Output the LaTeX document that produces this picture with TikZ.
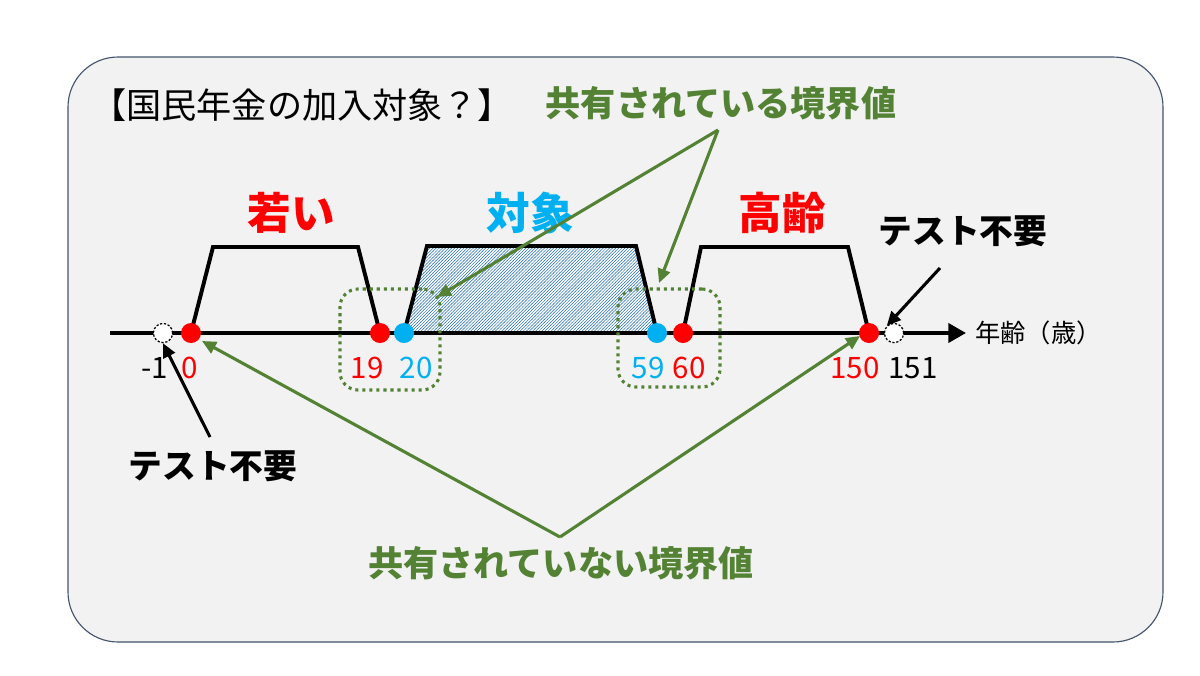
\documentclass[tikz,border=0pt]{standalone}
\usepackage{fontspec}
\setmainfont{Noto Sans CJK JP}
\usetikzlibrary{arrows.meta,patterns}
\definecolor{bgc}{HTML}{F2F2F2}
\definecolor{framec}{HTML}{44546A}
\definecolor{gr}{HTML}{548235}
\definecolor{bl}{HTML}{00B0F0}
\definecolor{hatchc}{HTML}{2E75B6}
\pgfdeclarepatternformonly{denseNE}{\pgfqpoint{-0.5pt}{-0.5pt}}{\pgfqpoint{2.7pt}{2.7pt}}{\pgfqpoint{2.2pt}{2.2pt}}{%
  \pgfsetlinewidth{0.35pt}%
  \pgfpathmoveto{\pgfqpoint{-0.2pt}{-0.2pt}}%
  \pgfpathlineto{\pgfqpoint{2.4pt}{2.4pt}}%
  \pgfusepath{stroke}}
\begin{document}
\begin{tikzpicture}[x=0.25mm,y=-0.25mm,
  redpt/.style={circle,fill=red,inner sep=0pt,minimum size=5mm},
  blupt/.style={circle,fill=bl,inner sep=0pt,minimum size=5mm},
  hollow/.style={circle,draw=black,fill=white,dash pattern=on 1.6pt off 1.2pt,line width=0.9pt,inner sep=0pt,minimum size=4.8mm},
  num/.style={font=\fontsize{21}{24}\selectfont,inner sep=0pt},
  trap/.style={line width=2.8pt,line join=miter},
  gbox/.style={draw=gr,line width=2.2pt,dash pattern=on 2.2pt off 2.8pt,rounded corners=4.5mm,inner sep=0pt},
  garrow/.style={draw=gr,line width=2.2pt,-{Triangle[length=10pt,width=9pt]}},
  barrow/.style={draw=black,line width=2.2pt,-{Triangle[length=10pt,width=9pt]}},
  biglab/.style={font=\fontsize{31}{36}\selectfont\bfseries,inner sep=0pt},
  glab/.style={font=\fontsize{25}{30}\selectfont\bfseries,text=gr,inner sep=0pt},
  tlab/.style={font=\fontsize{24}{28}\selectfont\bfseries,inner sep=0pt}
]
\useasboundingbox (0,0) rectangle (1200,675);
% background panel
\draw[draw=framec,fill=bgc,line width=0.8pt,rounded corners=12.5mm] (68,57) rectangle (1163,642);

% title
\node[anchor=west,inner sep=0pt,font=\fontsize{25}{30}\selectfont] (title) at (91,105) {【国民年金の加入対象？】};

% hatched target region
\fill[white] (404,333) -- (427,246) -- (636,246) -- (657,333) -- cycle;
\fill[pattern=denseNE,pattern color=hatchc] (404,333) -- (427,246) -- (636,246) -- (657,333) -- cycle;

% trapezoids
\draw[trap] (191,333) -- (213,247) -- (358,247) -- (380,333);
\draw[trap] (404,333) -- (427,246) -- (636,246) -- (657,333);
\draw[trap] (683,333) -- (701,247) -- (848,247) -- (869,333);

% axis
\coordinate (axs) at (110,333);
\coordinate (axe) at (966,333);
\draw[line width=2.6pt,-{Triangle[length=12.5pt,width=13.5pt]}] (axs) -- (axe);
\node[anchor=west,inner sep=0pt,font=\fontsize{18}{22}\selectfont] (axlab) at (975,333) {年齢（歳）};

% points
\node[hollow] (pm1) at (163,333) {};
\node[redpt] (p0) at (191,333) {};
\node[redpt] (p19) at (380,333) {};
\node[blupt] (p20) at (404,333) {};
\node[blupt] (p59) at (657,333) {};
\node[redpt] (p60) at (683,333) {};
\node[redpt] (p150) at (869,333) {};
\node[hollow] (p151) at (894,333) {};

% numbers
\node[num] (lm1) at (155,368) {-1};
\node[num,text=red] (l0) at (190,368) {0};
\node[num,text=red] (l19) at (367,368) {19};
\node[num,text=bl] (l20) at (416,368) {20};
\node[num,text=bl] (l59) at (648,368) {59};
\node[num,text=red] (l60) at (689,368) {60};
\node[num,text=red] (l150) at (855,368) {150};
\node[num] (l151) at (913,368) {151};

% range labels
\node[biglab,text=red] (young) at (291,213) {若い};
\node[biglab,text=bl] (target) at (530,213) {対象};
\node[biglab,text=red] (old) at (782,213) {高齢};

% dotted boxes
\node[gbox,minimum width=25mm,minimum height=25.25mm] (box1) at (390,339.5) {};
\node[gbox,minimum width=25.5mm,minimum height=24.5mm] (box2) at (669,338) {};

% green labels
\node[glab] (shared) at (721,103) {共有されている境界値};
\node[glab] (unshared) at (561,563) {共有されていない境界値};
\coordinate (sh0) at (718,130);
\coordinate (sht1) at (437,297);
\coordinate (sht2) at (659,283);
\coordinate (un0) at (560,537);
\coordinate (unt1) at (202,341);
\coordinate (unt2) at (860,336);
\draw[garrow] (sh0) -- (sht1);
\draw[garrow] (sh0) -- (sht2);
\draw[garrow] (un0) -- (unt1);
\draw[garrow] (un0) -- (unt2);

% test not needed
\node[tlab] (tn1) at (213,466) {テスト不要};
\node[tlab] (tn2) at (963,231) {テスト不要};
\coordinate (tn1s) at (210,437);
\coordinate (tn2s) at (940,268);
\draw[barrow] (tn1s) -- (pm1.south);
\draw[barrow] (tn2s) -- (p151.north west);
\end{tikzpicture}
\end{document}
